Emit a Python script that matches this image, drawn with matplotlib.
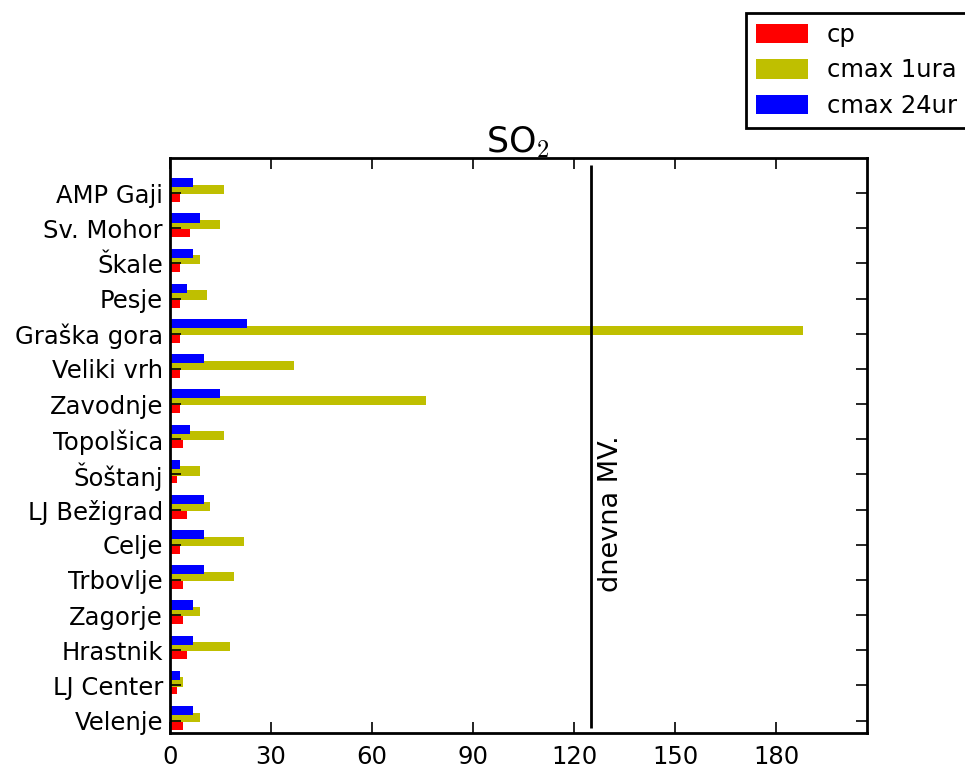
import matplotlib
matplotlib.use("Agg")
import matplotlib.pyplot as plt
import numpy as np

plt.rcParams["mathtext.fontset"] = "cm"

stations = ["Velenje", "LJ Center", "Hrastnik", "Zagorje", "Trbovlje", "Celje",
            "LJ Bežigrad", "Šoštanj", "Topolšica", "Zavodnje", "Veliki vrh",
            "Graška gora", "Pesje", "Škale", "Sv. Mohor", "AMP Gaji"]
cp = [4, 2, 5, 4, 4, 3, 5, 2, 4, 3, 3, 3, 3, 3, 6, 3]
cmax_1ura = [9, 4, 18, 9, 19, 22, 12, 9, 16, 76, 37, 188, 11, 9, 15, 16]
cmax_24ur = [7, 3, 7, 7, 10, 10, 10, 3, 6, 15, 10, 23, 5, 7, 9, 7]
mv_limit = 125
xticks = [0, 30, 60, 90, 120, 150, 180]

fig = plt.figure(figsize=(9.65, 7.74), dpi=100)
ax = fig.add_axes([0.176, 0.053, 0.722, 0.743])

y = np.arange(len(stations))
h = 0.26
ax.barh(y - 0.125, cp, height=h, color="#ff0000", label="cp", linewidth=0)
ax.barh(y + 0.10, cmax_1ura, height=h, color="#bfbf00", label="cmax 1ura", linewidth=0)
ax.barh(y + 0.29, cmax_24ur, height=h, color="#0000ff", label="cmax 24ur", linewidth=0)

ax.vlines(mv_limit, -0.2, 15.8, color="black", linewidth=2)
ax.text(mv_limit + 2.0, 3.65, "dnevna MV.", rotation=90, va="bottom", ha="left", fontsize=19.5)

ax.set_xlim(0, max(cmax_1ura) * 1.1)
ax.set_ylim(-0.35, 16.0)
ax.set_xticks(xticks)
ax.set_yticks(y)
ax.set_yticklabels(stations, fontsize=17.5)
ax.tick_params(axis="x", labelsize=17.5, pad=9)
ax.tick_params(axis="y", pad=5)
ax.tick_params(direction="in", length=8, width=1.2, top=True, right=True, zorder=5)
for s in ax.spines.values():
    s.set_linewidth(2)

ax.set_title("SO$_2$", fontsize=25, pad=4)

leg = fig.legend(loc="upper left", bbox_to_anchor=(746 / 965, 1 - 13 / 774), fontsize=17.5,
                 fancybox=False, edgecolor="black", framealpha=1, borderaxespad=0,
                 handlelength=2.15, handleheight=0.85, borderpad=0.4, labelspacing=0.48,
                 handletextpad=0.78)
leg.get_frame().set_linewidth(2)

fig.savefig("out.png", dpi=100)
